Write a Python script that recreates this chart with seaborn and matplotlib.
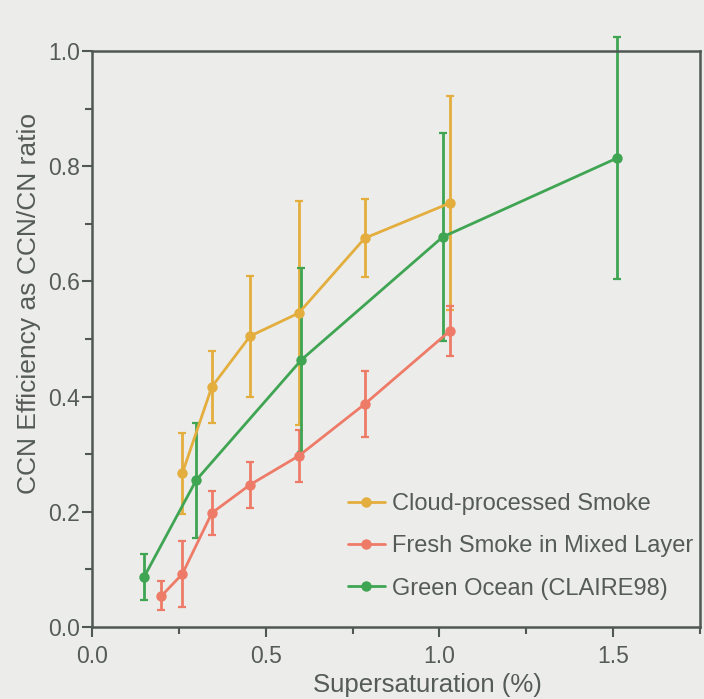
import numpy as np
import pandas as pd
import matplotlib
matplotlib.use("Agg")
import matplotlib.pyplot as plt
import seaborn as sns
from matplotlib.ticker import MultipleLocator, FormatStrFormatter

# ---- data ----
cloud_x = [0.26, 0.345, 0.455, 0.595, 0.785, 1.03]
cloud_y = [0.267, 0.417, 0.505, 0.545, 0.675, 0.736]
cloud_err = [0.07, 0.062, 0.105, 0.195, 0.068, 0.186]

fresh_x = [0.20, 0.26, 0.345, 0.455, 0.595, 0.785, 1.03]
fresh_y = [0.054, 0.092, 0.198, 0.247, 0.297, 0.387, 0.514]
fresh_err = [0.025, 0.057, 0.038, 0.04, 0.045, 0.057, 0.043]

green_x = [0.15, 0.30, 0.603, 1.009, 1.511]
green_y = [0.087, 0.255, 0.464, 0.677, 0.814]
green_err = [0.04, 0.10, 0.16, 0.18, 0.21]

series_names = ["Cloud-processed Smoke", "Fresh Smoke in Mixed Layer", "Green Ocean (CLAIRE98)"]
colors = ["#E3AE3E", "#EE7B68", "#3FA553"]

x_label = "Supersaturation (%)"
y_label = "CCN Efficiency as CCN/CN ratio"

frames = []
for name, xs, ys, es in zip(series_names, [cloud_x, fresh_x, green_x],
                            [cloud_y, fresh_y, green_y], [cloud_err, fresh_err, green_err]):
    frames.append(pd.DataFrame({"x": xs, "y": ys, "err": es, "series": name}))
df = pd.concat(frames, ignore_index=True)

bg = "#ECECEA"
sns.set_style("ticks")
plt.rcParams["font.family"] = ["Liberation Sans", "DejaVu Sans"]
text_color = "#555B59"
spine_color = "#505856"

fig = plt.figure(figsize=(7.04, 6.99), dpi=100, facecolor=bg)
ax = fig.add_axes([92 / 704, 1 - 627 / 699, 608 / 704, 576 / 699])
ax.set_facecolor(bg)

palette = dict(zip(series_names, colors))
for name in series_names:
    d = df[df["series"] == name]
    cont = ax.errorbar(d["x"], d["y"], yerr=d["err"], fmt="none", ecolor=palette[name],
                       elinewidth=2.0, capsize=3.2, capthick=1.6, zorder=2)
    for art in cont.lines[1] + cont.lines[2]:
        art.set_clip_on(False)

sns.lineplot(data=df, x="x", y="y", hue="series", palette=palette, hue_order=series_names,
             marker="o", markersize=7.5, markeredgewidth=0, linewidth=2.0,
             sort=False, estimator=None, ax=ax, zorder=3)

ax.set_xlim(0, 1.75)
ax.set_ylim(0, 1.0)
ax.xaxis.set_major_locator(MultipleLocator(0.5))
ax.xaxis.set_minor_locator(MultipleLocator(0.25))
ax.yaxis.set_major_locator(MultipleLocator(0.2))
ax.yaxis.set_minor_locator(MultipleLocator(0.1))
ax.xaxis.set_major_formatter(FormatStrFormatter("%.1f"))
ax.yaxis.set_major_formatter(FormatStrFormatter("%.1f"))

ax.tick_params(axis="both", which="major", length=7, width=1.5, color=spine_color,
               labelsize=16.5, labelcolor=text_color, direction="out")
ax.tick_params(axis="both", which="minor", length=5, width=1.5, color=spine_color, direction="out")
ax.tick_params(axis="x", which="both", pad=6)
ax.tick_params(axis="y", which="both", pad=1.5)

for s in ax.spines.values():
    s.set_color(spine_color)
    s.set_linewidth(1.8)

ax.set_xlabel(x_label, fontsize=18.5, color=text_color, labelpad=3.5)
ax.set_ylabel(y_label, fontsize=19, color=text_color, labelpad=5)
ax.xaxis.label.set_x((427 - 92) / 608)
ax.yaxis.label.set_y((627 - 303) / 576)

leg = ax.legend(loc="upper left", bbox_to_anchor=((348 - 92) / 608, (627 - 493) / 576),
                frameon=False, borderpad=0, borderaxespad=0,
                fontsize=17, handlelength=1.55, handletextpad=0.3, labelspacing=0.86)
for t in leg.get_texts():
    t.set_color(text_color)

fig.savefig("out.png", dpi=100, facecolor=bg)
